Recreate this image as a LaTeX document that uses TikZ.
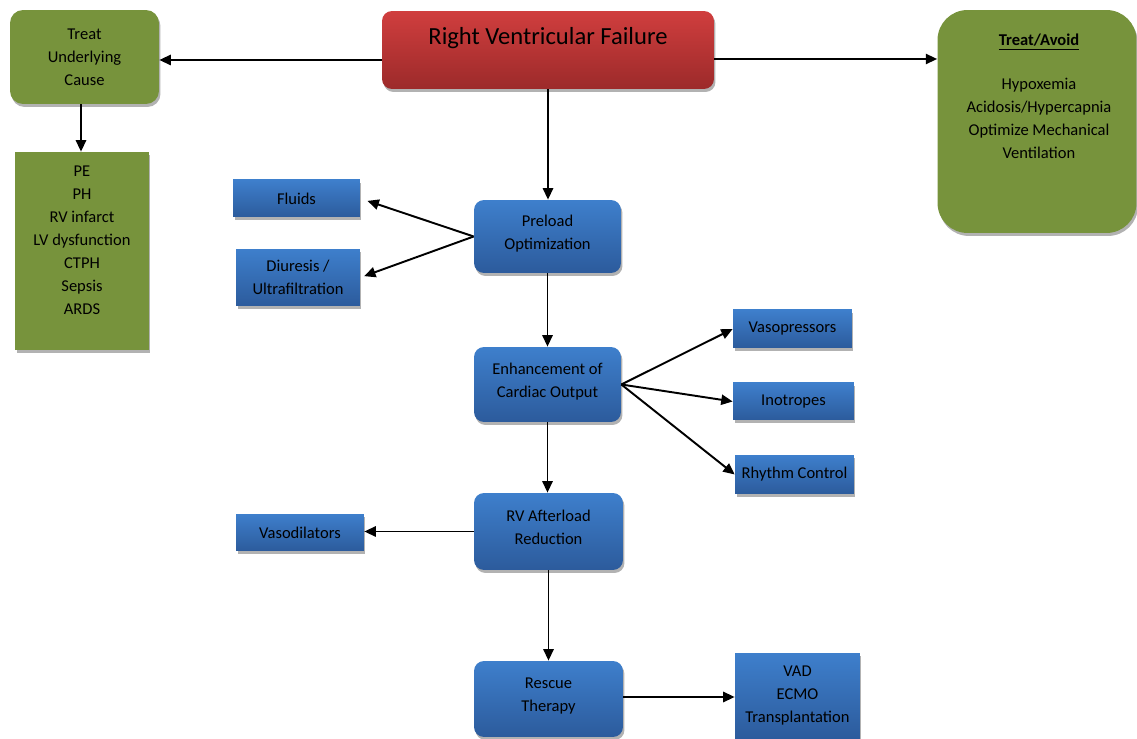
\documentclass[tikz,border=0pt]{standalone}
\usepackage{fontspec}
\setmainfont{Carlito}
\usetikzlibrary{arrows.meta,shadows}

\definecolor{boxblue}{RGB}{62,127,204}
\definecolor{boxbluedark}{RGB}{44,91,156}
\definecolor{boxred}{RGB}{208,62,62}
\definecolor{boxreddark}{RGB}{156,42,42}
\definecolor{boxgreen}{RGB}{119,147,60}

\tikzset{
  shadowed/.style={drop shadow={shadow xshift=0.03cm,shadow yshift=-0.06cm,fill=black!30,opacity=1}},
  boxtext/.style={font=\fontsize{9.4}{13.1}\selectfont, align=center, text=black},
  bluebox/.style={boxtext, shadowed, rounded corners=0.2cm, top color=boxblue, bottom color=boxbluedark, inner sep=2pt, text depth=5pt},
  bluerect/.style={boxtext, shadowed, top color=boxblue, bottom color=boxbluedark, inner sep=2pt},
  redbox/.style={shadowed, rounded corners=0.2cm, top color=boxred, bottom color=boxreddark},
  greenbox/.style={boxtext, shadowed, fill=boxgreen},
  link/.style={->, line width=1.1pt}
}

\begin{document}
\begin{tikzpicture}[x=0.02cm,y=-0.02cm,>={Triangle[length=6.5pt,width=5.8pt]}]
  \useasboundingbox (0,0) rectangle (1137,739);
  % top row
  \node[redbox, minimum width=6.64cm, minimum height=1.56cm] (rvf) at (548,50) {};
  \node[font=\fontsize{14}{16}\selectfont, text=black] (rvf-text) at (548,38) {Right Ventricular Failure};
  \node[greenbox, rounded corners=0.26cm, minimum width=2.98cm, minimum height=1.88cm] (cause) at (84.5,57) {Treat\\Underlying\\Cause};
  \node[greenbox, rounded corners=0.6cm, minimum width=3.98cm, minimum height=4.46cm] (avoid) at (1037,121.5) {};
  \node[boxtext, anchor=north] (avoid-text) at (1039,28) {\underline{\textbf{Treat/Avoid}}\\[12pt]Hypoxemia\\Acidosis/Hypercapnia\\Optimize Mechanical\\Ventilation};
  \node[greenbox, minimum width=2.68cm, minimum height=3.96cm] (causes) at (82,251) {};
  \node[boxtext] (causes-text) at (82,240) {PE\\PH\\RV infarct\\LV dysfunction\\CTPH\\Sepsis\\ARDS};
  % main column
  \node[bluebox, minimum width=2.94cm, minimum height=1.46cm] (preload) at (547.5,236.5) {Preload\\Optimization};
  \node[bluebox, minimum width=2.94cm, minimum height=1.5cm] (enhance) at (547.5,384.5) {Enhancement of\\Cardiac Output};
  \node[bluebox, minimum width=2.98cm, minimum height=1.54cm] (afterload) at (548.5,531.5) {RV Afterload\\Reduction};
  \node[bluebox, minimum width=2.98cm, minimum height=1.52cm] (rescue) at (548.5,699) {Rescue\\Therapy};
  % side boxes
  \node[bluerect, minimum width=2.54cm, minimum height=0.74cm] (fluids) at (296.5,198.5) {Fluids};
  \node[bluerect, minimum width=2.48cm, minimum height=1.14cm] (diuresis) at (298,277.5) {Diuresis /\\Ultrafiltration};
  \node[bluerect, minimum width=2.38cm, minimum height=0.76cm] (vasopressors) at (792.5,329) {Vasopressors};
  \node[bluerect, minimum width=2.42cm, minimum height=0.74cm] (inotropes) at (793.5,401.5) {Inotropes};
  \node[bluerect, minimum width=2.38cm, minimum height=0.78cm] (rhythm) at (794.5,474.5) {Rhythm Control};
  \node[bluerect, minimum width=2.56cm, minimum height=0.74cm] (vasodilators) at (300,532.5) {Vasodilators};
  \node[bluerect, minimum width=2.5cm, minimum height=1.72cm] (vad) at (797.5,696) {VAD\\ECMO\\Transplantation};
  % connectors
  \draw[link] (rvf.west |- 0,60) -- (cause.east |- 0,60);
  \draw[link] (rvf.east |- 0,59) -- (avoid.west |- 0,59);
  \draw[link] (cause.south -| 81,0) -- (causes.north -| 81,0);
  \draw[link] (rvf.south) -- (rvf.south |- preload.north);
  \draw[link, shorten >=0.15cm] (preload.west) -- (fluids.east);
  \draw[link, shorten >=0.08cm] (preload.west) -- (diuresis.east);
  \draw[link] (preload.south) -- (enhance.north);
  \draw[link] (enhance.east) -- (vasopressors.west);
  \draw[link] (enhance.east) -- (inotropes.west);
  \draw[link] (enhance.east) -- (rhythm.west);
  \draw[link] (enhance.south) -- (enhance.south |- afterload.north);
  \draw[link] (afterload.west) -- (vasodilators.east |- afterload.west);
  \draw[link] (afterload.south) -- (rescue.north);
  \draw[link] (rescue.east |- 0,697) -- (vad.west |- 0,697);
\end{tikzpicture}
\end{document}
